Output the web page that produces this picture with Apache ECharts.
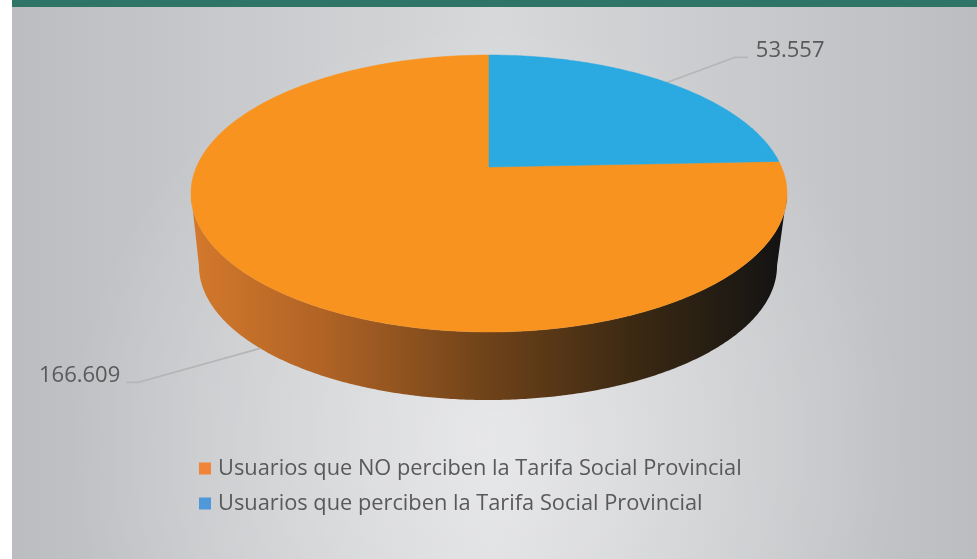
<!DOCTYPE html>
<html>
<head>
<meta charset="utf-8">
<script src="https://cdn.jsdelivr.net/npm/echarts@6/dist/echarts.min.js"></script>
<style>
html,body{margin:0;padding:0;background:#fff;}
#chart{width:977px;height:559px;}
</style>
</head>
<body>
<div id="chart"></div>
<script>
// ---- data ----
const categories = [
  'Usuarios que NO perciben la Tarifa Social Provincial',
  'Usuarios que perciben la Tarifa Social Provincial'
];
const values = [166609, 53557];
const valueLabels = ['166.609', '53.557'];
const topColors = ['#F7931E', '#2BA9E1'];
const legendColors = ['#F08538', '#4F98D9'];

// ---- layout / style (not data) ----
const G = {
  cx: 489, cy: 167, A: 292.5, B: 133.4, k: 0.1913,       // top face projection
  bx: 488, by: 240, A2: 283.7, B2: 129.4                   // bottom face projection
};
const labelLayout = [
  { dx: -122, dy: 34, run: -12 },
  { dx: 68, dy: -25, run: 13 }
];
const FONT = '"Open Sans", "Noto Sans", sans-serif';

const total = values.reduce((a, b) => a + b, 0);
const cum = [];
values.reduce((acc, v, i) => { cum[i] = acc; return acc + v / total; }, 0);
// last slice begins at 12 o'clock and runs clockwise
const lastCum = cum[values.length - 1];

function uv(theta) {
  const r = theta * Math.PI / 180;
  return [Math.sin(r), -Math.cos(r)];
}
function topPt(theta) {
  const [u, v] = uv(theta); const d = 1 - G.k * v;
  return [G.cx + G.A * u / d, G.cy + G.B * v / d];
}
function botPt(theta) {
  const [u, v] = uv(theta); const d = 1 - G.k * v;
  return [G.bx + G.A2 * u / d, G.by + G.B2 * v / d];
}
const asinK = Math.asin(G.k) * 180 / Math.PI;
const visR = 90 + asinK, visL = 270 - asinK;

function arcPts(fn, a0, a1) {
  const pts = [];
  const n = Math.max(2, Math.ceil(Math.abs(a1 - a0) / 0.5));
  for (let j = 0; j <= n; j++) pts.push(fn(a0 + (a1 - a0) * j / n));
  return pts;
}

const sideGradient = {
  type: 'linear', x: 195, y: 0, x2: 782, y2: 0, global: true,
  colorStops: [
    { offset: 0, color: '#d3782c' },
    { offset: 0.22, color: '#b06325' },
    { offset: 0.5, color: '#6e4219' },
    { offset: 0.75, color: '#3b2913' },
    { offset: 1, color: '#131313' }
  ]
};

function renderItem(params, api) {
  const i = params.seriesIndex;
  const share = api.value(0) / total;
  const a0 = 360 * (cum[i] - lastCum);
  const a1 = a0 + 360 * share;
  const children = [];

  // visible side wall
  for (const shift of [-360, 0, 360]) {
    const s0 = Math.max(a0 + shift, visR), s1 = Math.min(a1 + shift, visL);
    if (s1 > s0) {
      const pts = arcPts(topPt, s0, s1).concat(arcPts(botPt, s1, s0));
      children.push({ type: 'polygon', z2: 1, shape: { points: pts },
        style: { fill: sideGradient, stroke: null } });
    }
  }
  // top face
  const topPts = [[G.cx, G.cy]].concat(arcPts(topPt, a0, a1));
  children.push({ type: 'polygon', z2: 10, shape: { points: topPts },
    style: { fill: topColors[i], stroke: topColors[i], lineWidth: 0.5 } });

  // label with leader line
  let mid = (a0 + a1) / 2;
  let m = ((mid % 360) + 360) % 360;
  const start = (m > visR && m < visL) ? botPt(m) : topPt(m);
  const L = labelLayout[i];
  const elbow = [start[0] + L.dx, start[1] + L.dy];
  const end = [elbow[0] + L.run, elbow[1]];
  children.push({ type: 'polyline', z2: 5, shape: { points: [start, elbow, end] },
    style: { stroke: '#b5b6b8', lineWidth: 1.6, fill: null } });
  const right = L.run > 0;
  children.push({ type: 'text', z2: 20,
    x: end[0] + (right ? 8 : -6), y: end[1] - 7,
    style: { text: valueLabels[i], fill: '#595959', font: '22px ' + FONT,
      align: right ? 'left' : 'right', verticalAlign: 'middle' } });
  return { type: 'group', children };
}

const chart = echarts.init(document.getElementById('chart'), null, { renderer: 'canvas' });
chart.setOption({
  animation: false,
  graphic: [
    { type: 'rect', z: -10, shape: { x: 0, y: 0, width: 977, height: 559 }, style: { fill: '#ffffff' } },
    { type: 'rect', z: -9, shape: { x: 12, y: 7, width: 965, height: 552 },
      style: { fill: { type: 'linear', x: 0, y: 0, x2: 1, y2: 0, colorStops: [
        { offset: 0, color: '#bcbdc0' }, { offset: 0.5, color: '#d7d8da' }, { offset: 1, color: '#bcbdc0' } ] } } },
    { type: 'rect', z: -8, shape: { x: 12, y: 7, width: 965, height: 552 },
      style: { fill: { type: 'radial', x: 488, y: 440, r: 420, global: true, colorStops: [
        { offset: 0, color: 'rgba(255,255,255,0.4)' }, { offset: 1, color: 'rgba(255,255,255,0)' } ] } } },
    { type: 'rect', z: -7, shape: { x: 12, y: 0, width: 965, height: 7 }, style: { fill: '#2f7567' } }
  ],
  legend: {
    orient: 'vertical', left: 194, top: 451,
    itemWidth: 12, itemHeight: 12, itemGap: 10,
    icon: 'rect',
    textStyle: { color: '#595959', fontSize: 21.8, fontFamily: FONT, lineHeight: 25, padding: [0, 0, 0, 2] },
    data: categories.map((c, i) => ({ name: c, itemStyle: { color: legendColors[i] } }))
  },
  series: categories.map((c, i) => ({
    type: 'custom', name: c, coordinateSystem: 'none',
    itemStyle: { color: topColors[i] },
    renderItem: renderItem,
    data: [[values[i]]],
    silent: true
  }))
});
</script>
</body>
</html>
